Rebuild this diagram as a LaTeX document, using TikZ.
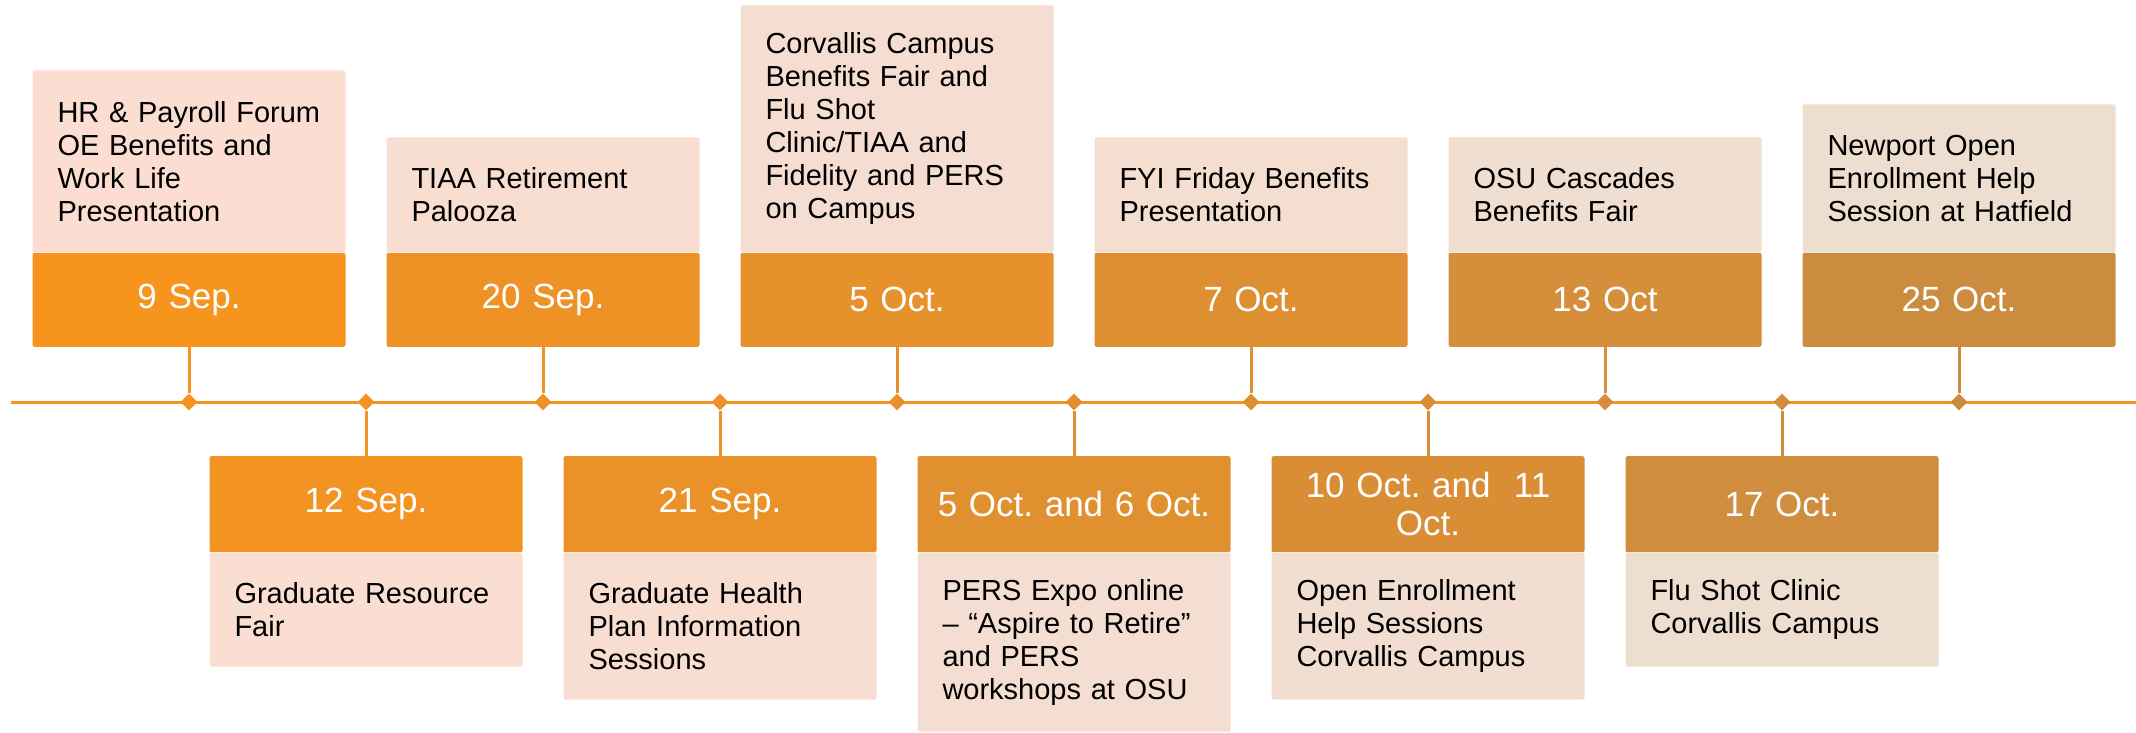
\documentclass[tikz,border=0pt]{standalone}
\usepackage{fontspec}
\setmainfont{Liberation Sans}
\frenchspacing
\usetikzlibrary{shapes.geometric}
\definecolor{hdfirst}{RGB}{247,148,30}
\definecolor{hdlast}{RGB}{204,140,64}
\definecolor{ltfirst}{RGB}{251,222,209}
\definecolor{ltlast}{RGB}{237,222,208}
\colorlet{hdA}{hdfirst!100!hdlast}
\colorlet{hdB}{hdfirst!90!hdlast}
\colorlet{hdC}{hdfirst!80!hdlast}
\colorlet{hdD}{hdfirst!70!hdlast}
\colorlet{hdE}{hdfirst!60!hdlast}
\colorlet{hdF}{hdfirst!50!hdlast}
\colorlet{hdG}{hdfirst!40!hdlast}
\colorlet{hdH}{hdfirst!30!hdlast}
\colorlet{hdI}{hdfirst!20!hdlast}
\colorlet{hdJ}{hdfirst!10!hdlast}
\colorlet{hdK}{hdfirst!0!hdlast}
\colorlet{ltA}{ltfirst!100!ltlast}
\colorlet{ltB}{ltfirst!90!ltlast}
\colorlet{ltC}{ltfirst!80!ltlast}
\colorlet{ltD}{ltfirst!70!ltlast}
\colorlet{ltE}{ltfirst!60!ltlast}
\colorlet{ltF}{ltfirst!50!ltlast}
\colorlet{ltG}{ltfirst!40!ltlast}
\colorlet{ltH}{ltfirst!30!ltlast}
\colorlet{ltI}{ltfirst!20!ltlast}
\colorlet{ltJ}{ltfirst!10!ltlast}
\colorlet{ltK}{ltfirst!0!ltlast}
\begin{document}
\begin{tikzpicture}[x=1pt,y=-1pt,
datebox/.style={rectangle,minimum width=313pt,text width=293pt,inner xsep=10pt,inner ysep=0pt,align=center,text=white,font=\fontsize{35}{38}\selectfont,rounded corners=2pt},
textbox/.style={rectangle,minimum width=313pt,text width=263pt,inner xsep=25pt,inner ysep=0pt,align=left,font=\fontsize{29}{33}\selectfont,rounded corners=2pt},
dot/.style={diamond,minimum size=17pt,inner sep=0pt},
stem/.style={line width=3pt},
axis/.style={line width=3pt,color=hdfirst}]
\useasboundingbox (0,0) rectangle (2136,733);
\coordinate (axl) at (11,402);
\coordinate (axr) at (2136,402);
\draw[axis] (axl) -- (axr);
\node[datebox,fill=hdA,minimum height=94pt,anchor=south] (d9sep) at (189,347) {9 Sep.};
\node[textbox,fill=ltA,minimum height=182pt,anchor=south] (t9sep) at (d9sep.north) {HR \& Payroll Forum\\OE Benefits and\\Work Life\\Presentation};
\node[datebox,fill=hdB,minimum height=96pt,anchor=north] (d12sep) at (366,456) {12 Sep.};
\node[textbox,fill=ltB,minimum height=114pt,anchor=north] (t12sep) at (d12sep.south) {Graduate Resource\\Fair};
\node[datebox,fill=hdC,minimum height=94pt,anchor=south] (d20sep) at (543,347) {20 Sep.};
\node[textbox,fill=ltC,minimum height=115pt,anchor=south] (t20sep) at (d20sep.north) {TIAA Retirement\\Palooza};
\node[datebox,fill=hdD,minimum height=96pt,anchor=north] (d21sep) at (720,456) {21 Sep.};
\node[textbox,fill=ltD,minimum height=147pt,anchor=north] (t21sep) at (d21sep.south) {Graduate Health\\Plan Information\\Sessions};
\node[datebox,fill=hdE,minimum height=94pt,anchor=south] (d5oct) at (897,347) {5 Oct.};
\node[textbox,fill=ltE,minimum height=247pt,anchor=south] (t5oct) at (d5oct.north) {Corvallis Campus\\Benefits Fair and\\Flu Shot\\Clinic/TIAA and\\Fidelity and PERS\\on Campus};
\node[datebox,fill=hdF,minimum height=96pt,anchor=north] (d6oct) at (1074,456) {5 Oct. and 6 Oct.};
\node[textbox,fill=ltF,minimum height=179pt,anchor=north] (t6oct) at (d6oct.south) {PERS Expo online\\– “Aspire to Retire”\\and PERS\\workshops at OSU};
\node[datebox,fill=hdG,minimum height=94pt,anchor=south] (d7oct) at (1251,347) {7 Oct.};
\node[textbox,fill=ltG,minimum height=115pt,anchor=south] (t7oct) at (d7oct.north) {FYI Friday Benefits\\Presentation};
\node[datebox,fill=hdH,minimum height=96pt,anchor=north] (d11oct) at (1428,456) {10 Oct. and~ 11\\Oct.};
\node[textbox,fill=ltH,minimum height=147pt,anchor=north] (t11oct) at (d11oct.south) {Open Enrollment\\Help Sessions\\Corvallis Campus};
\node[datebox,fill=hdI,minimum height=94pt,anchor=south] (d13oct) at (1605,347) {13 Oct};
\node[textbox,fill=ltI,minimum height=115pt,anchor=south] (t13oct) at (d13oct.north) {OSU Cascades\\Benefits Fair};
\node[datebox,fill=hdJ,minimum height=96pt,anchor=north] (d17oct) at (1782,456) {17 Oct.};
\node[textbox,fill=ltJ,minimum height=114pt,anchor=north] (t17oct) at (d17oct.south) {Flu Shot Clinic\\Corvallis Campus};
\node[datebox,fill=hdK,minimum height=94pt,anchor=south] (d25oct) at (1959,347) {25 Oct.};
\node[textbox,fill=ltK,minimum height=148pt,anchor=south] (t25oct) at (d25oct.north) {Newport Open\\Enrollment Help\\Session at Hatfield};
\node[dot,fill=hdA] (m9sep) at (189,402) {};
\node[dot,fill=hdB] (m12sep) at (366,402) {};
\node[dot,fill=hdC] (m20sep) at (543,402) {};
\node[dot,fill=hdD] (m21sep) at (720,402) {};
\node[dot,fill=hdE] (m5oct) at (897,402) {};
\node[dot,fill=hdF] (m6oct) at (1074,402) {};
\node[dot,fill=hdG] (m7oct) at (1251,402) {};
\node[dot,fill=hdH] (m11oct) at (1428,402) {};
\node[dot,fill=hdI] (m13oct) at (1605,402) {};
\node[dot,fill=hdJ] (m17oct) at (1782,402) {};
\node[dot,fill=hdK] (m25oct) at (1959,402) {};
\draw[stem,hdA] (d9sep.south) -- (m9sep.north);
\draw[stem,hdB] (m12sep.south) -- (d12sep.north);
\draw[stem,hdC] (d20sep.south) -- (m20sep.north);
\draw[stem,hdD] (m21sep.south) -- (d21sep.north);
\draw[stem,hdE] (d5oct.south) -- (m5oct.north);
\draw[stem,hdF] (m6oct.south) -- (d6oct.north);
\draw[stem,hdG] (d7oct.south) -- (m7oct.north);
\draw[stem,hdH] (m11oct.south) -- (d11oct.north);
\draw[stem,hdI] (d13oct.south) -- (m13oct.north);
\draw[stem,hdJ] (m17oct.south) -- (d17oct.north);
\draw[stem,hdK] (d25oct.south) -- (m25oct.north);
\end{tikzpicture}
\end{document}
